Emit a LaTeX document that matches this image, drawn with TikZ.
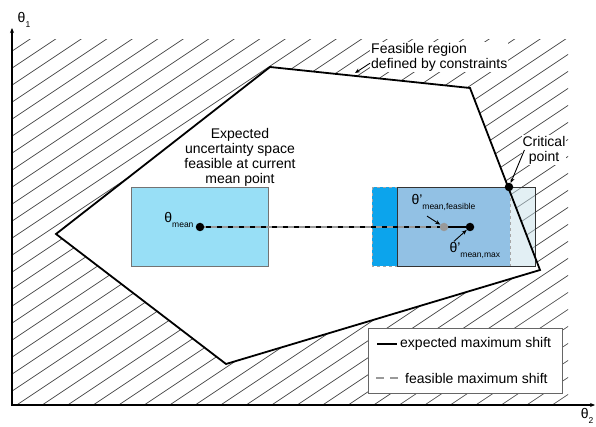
\documentclass[tikz,border=0pt]{standalone}
\usepackage{fontspec}
\setmainfont{Liberation Sans}
\usetikzlibrary{arrows.meta}
\definecolor{skyblue}{HTML}{98DFF6}
\definecolor{deepblue}{HTML}{0CA4EC}
\definecolor{midblue}{HTML}{92C1E4}
\definecolor{paleblue}{HTML}{C7E1EA}
\newcommand{\lowsub}[1]{\raisebox{-4.5pt}{\fontsize{8.5}{9}\selectfont #1}}
\tikzstyle{hatch} = [black!75, line width=0.65pt]
\tikzstyle{border} = [black, line width=1.8pt, line join=miter]
\tikzstyle{axis} = [black, line width=1.3pt, {Stealth[length=5pt,width=4pt]}-{Stealth[length=5pt,width=4pt]}]
\tikzstyle{dot} = [circle, fill=black, minimum size=8.5pt, inner sep=0pt]
\tikzstyle{graydot} = [dot, fill=black!40]
\tikzstyle{note} = [fill=white, inner sep=1pt, align=left]
\tikzstyle{pointer} = [-{Stealth[length=5pt,width=4pt]}, line width=0.9pt]
\tikzstyle{expshift} = [black, line width=2.5pt]
\tikzstyle{feasshift} = [black!40, line width=2.5pt, dash pattern=on 6pt off 5pt]

\begin{document}
\begin{tikzpicture}[
  x=1pt, y=-1pt,
  every node/.style={font=\fontsize{14}{15}\selectfont},
]
\useasboundingbox (0,0) rectangle (596,427);

\begin{scope}
  \clip (12,40) rectangle (568,405);
  \foreach \k in {-24,...,23}
    \draw[hatch] ({16.7+25.5*\k},405) -- ++(600,-400);
\end{scope}

\coordinate (p1) at (270,67);
\coordinate (p2) at (470,88);
\coordinate (p3) at (540,270);
\coordinate (p4) at (226,364);
\coordinate (p5) at (56,234);
\fill[white] (p1) -- (p2) -- (p3) -- (p4) -- (p5) -- cycle;

\draw[axis] (12,28) -- (12,405) -- (595,405);
\node (t1) at (24,20) {θ\lowsub{1}};
\node (t2) at (587,416) {θ\lowsub{2}};

% current uncertainty space
\fill[skyblue] (131,187) rectangle (268,266);
\draw[black!55, line width=0.8pt] (131,187) rectangle (268,266);

% shifted uncertainty spaces
\fill[deepblue] (372,187) rectangle (397,266);
\fill[midblue] (397,187) rectangle (510,266);
\fill[paleblue, opacity=0.5] (510,187) rectangle (535,266);
\draw[black!35, dashed, line width=0.8pt] (372,187) rectangle (510,266);
\draw[black!80, line width=0.9pt] (397,187) rectangle (535,266);

\draw[border] (p1) -- (p2) -- (p3) -- (p4) -- (p5) -- cycle;

\coordinate (mean) at (200,227);
\coordinate (feas) at (444,227);
\coordinate (max) at (470,227);
\draw[expshift] (mean) -- (max);
\draw[feasshift] (mean) -- (feas);
\node[dot] (dmean) at (mean) {};
\node[graydot] (dfeas) at (feas) {};
\node[dot] (dmax) at (max) {};
\node[dot] (crit) at (509,187) {};

\node (lmean) [anchor=base east] at (197,223) {θ\lowsub{mean}};
\node (lfeas) [anchor=base west] at (408,205) {θ'\lowsub{mean,feasible}};
\node (lmax) [anchor=base west] at (446,253) {θ'\lowsub{mean,max}};
\draw[pointer] ([xshift=19pt,yshift=-2pt]lfeas.south west) -- (dfeas);
\draw[pointer] ([xshift=8pt,yshift=-2pt]lmax.north west) -- (dmax);

\node[align=center] (lexp) at (240,157) {Expected\\uncertainty space\\feasible at current\\mean point};

\node[note, align=center] (lcrit) at (544,150) {Critical\\point};
\draw[pointer] ([xshift=3pt]lcrit.west) -- (crit);

\node[note, anchor=north west] (lreg) at (370,42) {Feasible region\\defined by constraints};
\coordinate (edge) at (355,73);
\draw[pointer] ([yshift=-6pt]lreg.west) -- (edge);

% legend
\node[draw=black!60, fill=white, line width=0.8pt, minimum width=194pt, minimum height=65pt] (legend) at (465,360.5) {};
\coordinate (k1) at (377,344);
\coordinate (k2) at (397,344);
\coordinate (k3) at (376,378);
\coordinate (k4) at (398,378);
\draw[expshift, line width=2pt] (k1) -- (k2);
\node[anchor=west, inner sep=1pt] (le1) at (399,344) {expected maximum shift};
\draw[feasshift, line width=2pt, dash pattern=on 8pt off 6pt] (k3) -- (k4);
\node[anchor=west, inner sep=1pt] (le2) at (404,378) {feasible maximum shift};
\end{tikzpicture}
\end{document}
